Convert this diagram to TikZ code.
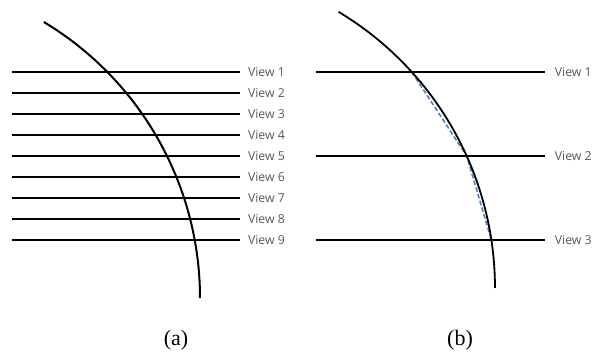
\documentclass[tikz,border=0pt]{standalone}
\usepackage{fontspec}
\setmainfont{Liberation Serif}
\newfontfamily\viewfont{Open Sans}
\usetikzlibrary{calc}
\definecolor{labelgray}{HTML}{595959}
\definecolor{chordblue}{HTML}{4F81BD}

\begin{document}
\begin{tikzpicture}[x=1pt,y=-1pt,
  rim/.style={line width=2pt,smooth,samples=80,variable=\t},
  view/.style={line width=2pt},
  viewlabel/.style={anchor=west,inner sep=0pt,xshift=7pt,text=labelgray,font=\viewfont\fontsize{12.3}{14}\selectfont},
  caption/.style={font=\fontsize{22}{24}\selectfont}]
\useasboundingbox (0,0) rectangle (598,355);
% (a) nine views
\draw[rim,domain=-59:0] plot ({-122+322*cos(\t)},{298+322*sin(\t)});
\foreach \k in {1,...,9}{
  \pgfmathsetmacro{\yy}{72+21*(\k-1)}
  \coordinate (sa\k) at (12,\yy);
  \draw[view] (sa\k) -- ++(228,0) node[viewlabel] (va\k) {View \k};
}
\node[caption] (capa) at (176,340) {(a)};
% (b) three views and their chords
\foreach \k/\yy in {1/72,2/156,3/240}{
  \pgfmathsetmacro{\xx}{173+322*sqrt(1-((288-\yy)/322)^2)}
  \coordinate (pb\k) at (\xx,\yy);
}
\draw[chordblue,line width=1.6pt,dash pattern=on 4.5pt off 2.5pt] (pb1) -- (pb2) -- (pb3);
\draw[rim,line width=1.8pt,domain=-59.07:0] plot ({173+322*cos(\t)},{288+322*sin(\t)});
\foreach \k/\yy in {1/72,2/156,3/240}{
  \coordinate (sb\k) at (316,\yy);
  \draw[view,line width=1.8pt] (sb\k) -- ++(229,0) node[viewlabel,xshift=2pt] (vb\k) {View \k};
}
\node[caption] (capb) at (460,340) {(b)};
\end{tikzpicture}
\end{document}
